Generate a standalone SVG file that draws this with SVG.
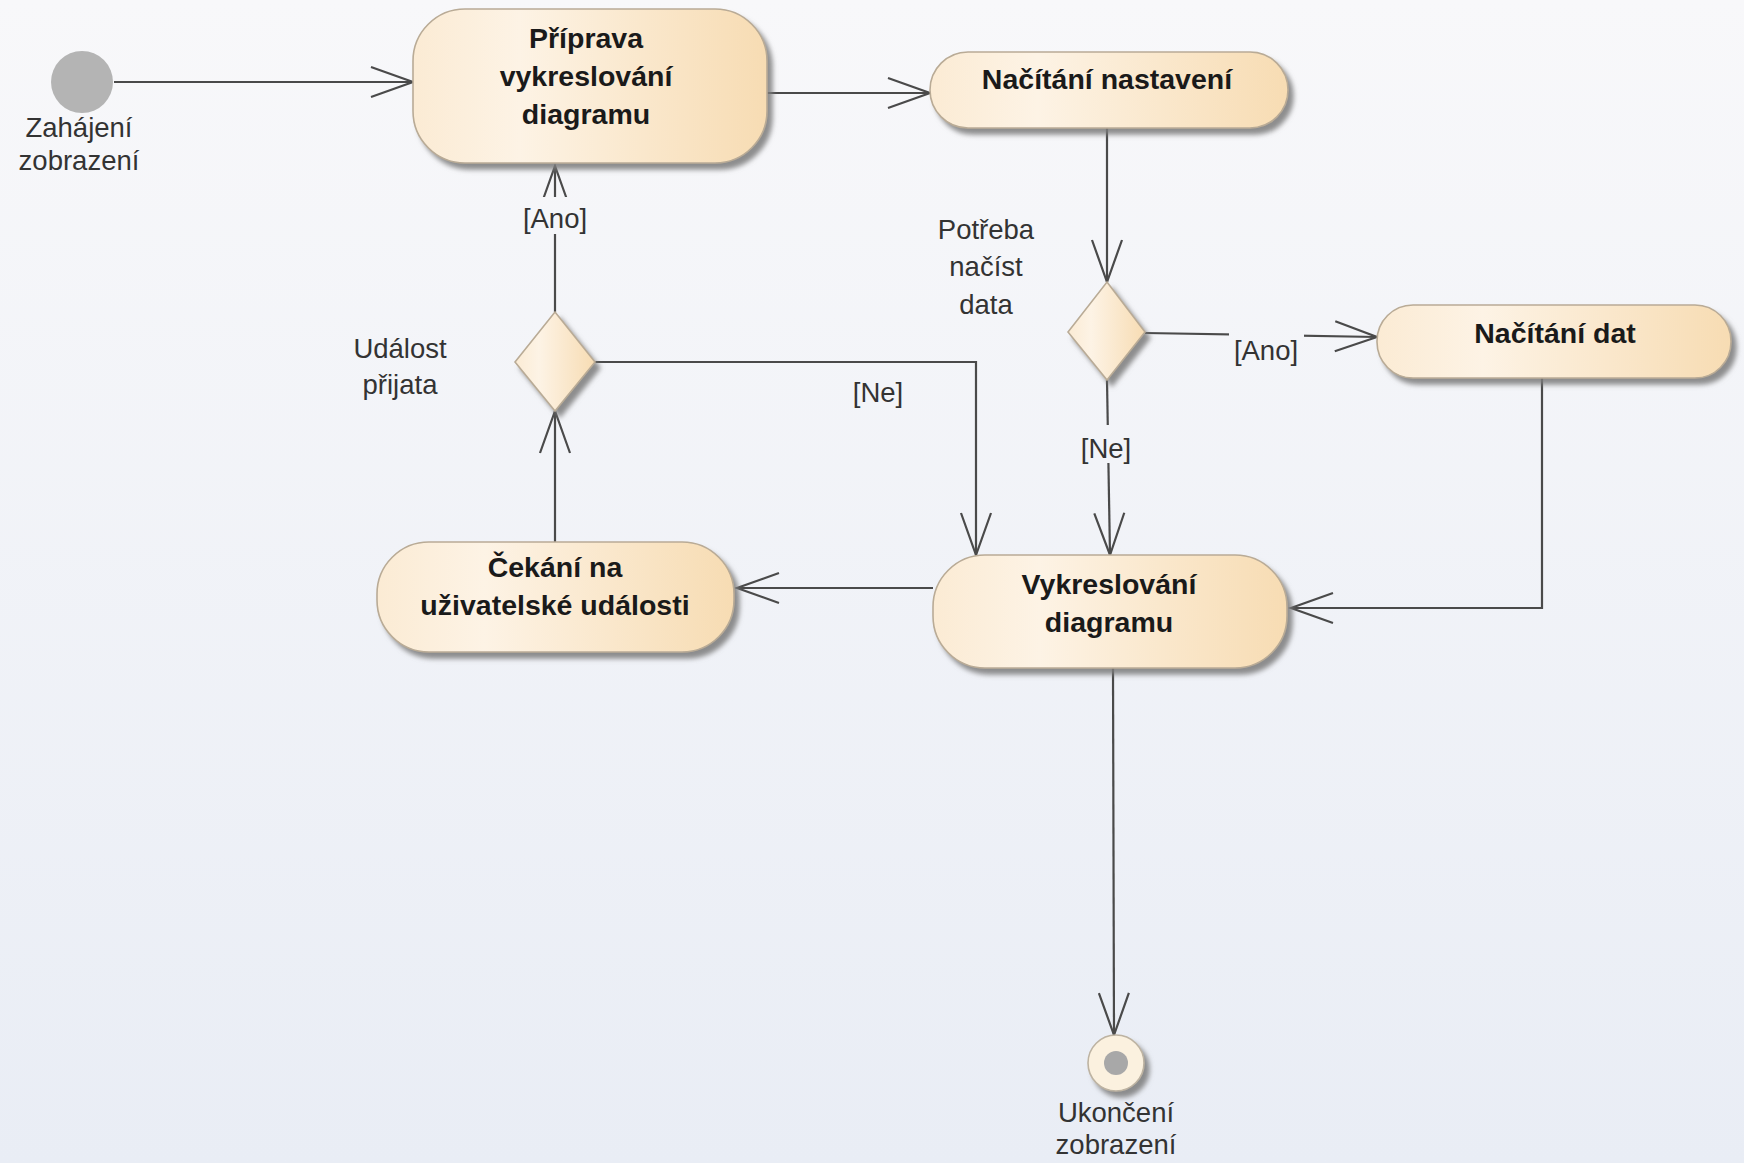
<svg xmlns="http://www.w3.org/2000/svg" width="1744" height="1163" viewBox="0 0 1744 1163">
  <defs>
    <linearGradient id="bg" gradientUnits="userSpaceOnUse" x1="0" y1="0" x2="0" y2="1163">
      <stop offset="0" stop-color="#f8f8fa"/>
      <stop offset="1" stop-color="#e9edf5"/>
    </linearGradient>
    <linearGradient id="nodeFill" x1="0" y1="0" x2="1" y2="0">
      <stop offset="0" stop-color="#fbebd4"/>
      <stop offset="0.3" stop-color="#fdf3e5"/>
      <stop offset="1" stop-color="#f7dcb3"/>
    </linearGradient>
    <filter id="shadow" x="-10%" y="-10%" width="130%" height="140%">
      <feDropShadow dx="5" dy="6" stdDeviation="2.5" flood-color="#7a7a7a" flood-opacity="0.85"/>
    </filter>
    <marker id="arrow" markerUnits="userSpaceOnUse" markerWidth="50" markerHeight="40" viewBox="-46 -20 50 40" refX="0" refY="0" orient="auto">
      <path d="M -42 -15 L 0 0 L -42 15" fill="none" stroke="#4a4a4a" stroke-width="2.2"/>
    </marker>
  </defs>
  <style>
    .node { fill: url(#nodeFill); stroke: #b9ab96; stroke-width: 1.6; filter: url(#shadow); }
    .conn { fill: none; stroke: #4a4a4a; stroke-width: 2.2; }
    .ntext { font-family: "Liberation Sans", Arial, sans-serif; font-weight: bold; font-size: 28.5px; fill: #1a1a1a; text-anchor: middle; }
    .label { font-family: "Liberation Sans", Arial, sans-serif; font-size: 27.5px; fill: #333333; text-anchor: middle; }
    .lblbg { fill: url(#bg); stroke: none; }
  </style>

  <rect x="0" y="0" width="1744" height="1163" fill="url(#bg)"/>

  <g id="connectors">
    <path class="conn" d="M 114 82 L 413 82" marker-end="url(#arrow)"/>
    <path class="conn" d="M 767 93 L 930 93" marker-end="url(#arrow)"/>
    <path class="conn" d="M 1107 128 L 1107 282" marker-end="url(#arrow)"/>
    <path class="conn" d="M 1145 333 L 1377 337" marker-end="url(#arrow)"/>
    <path class="conn" d="M 1107 380 L 1110 555" marker-end="url(#arrow)"/>
    <path class="conn" d="M 1542 378 L 1542 608 L 1291 608" marker-end="url(#arrow)"/>
    <path class="conn" d="M 933 588 L 737 588" marker-end="url(#arrow)"/>
    <path class="conn" d="M 555 542 L 555 411" marker-end="url(#arrow)"/>
    <path class="conn" d="M 555 312 L 555 166" marker-end="url(#arrow)"/>
    <path class="conn" d="M 595 362 L 976 362 L 976 555" marker-end="url(#arrow)"/>
    <path class="conn" d="M 1113 668 L 1114 1035" marker-end="url(#arrow)"/>

    <rect class="lblbg" x="521" y="197" width="68" height="37"/>
    <text class="label" x="555" y="228">[Ano]</text>
    <text class="label" x="878" y="402">[Ne]</text>
    <rect class="lblbg" x="1229" y="326" width="75" height="40"/>
    <text class="label" x="1266" y="360">[Ano]</text>
    <rect class="lblbg" x="1084" y="425" width="44" height="38"/>
    <text class="label" x="1106" y="458">[Ne]</text>
  </g>

  <g id="start">
    <circle cx="82" cy="82" r="31" fill="#b4b4b4"/>
    <text class="label" x="79" y="137">Zahájení</text>
    <text class="label" x="79" y="170">zobrazení</text>
  </g>

  <g id="priprava">
    <rect class="node" x="413" y="9" width="354" height="154" rx="52" ry="52"/>
    <text class="ntext" x="586" y="48">Příprava</text>
    <text class="ntext" x="586" y="86">vykreslování</text>
    <text class="ntext" x="586" y="124">diagramu</text>
  </g>

  <g id="nacitani-nastaveni">
    <rect class="node" x="930" y="52" width="358" height="76" rx="38" ry="38"/>
    <text class="ntext" x="1107" y="89">Načítání nastavení</text>
  </g>

  <g id="potreba-decision">
    <polygon class="node" points="1107,282 1145,332 1107,380 1068,332"/>
    <text class="label" x="986" y="239">Potřeba</text>
    <text class="label" x="986" y="276">načíst</text>
    <text class="label" x="986" y="314">data</text>
  </g>

  <g id="nacitani-dat">
    <rect class="node" x="1377" y="305" width="354" height="73" rx="36" ry="36"/>
    <text class="ntext" x="1555" y="343">Načítání dat</text>
  </g>

  <g id="udalost-decision">
    <polygon class="node" points="555,312 595,362 555,411 515,362"/>
    <text class="label" x="400" y="358">Událost</text>
    <text class="label" x="400" y="394">přijata</text>
  </g>

  <g id="cekani">
    <rect class="node" x="377" y="542" width="357" height="110" rx="52" ry="52"/>
    <text class="ntext" x="555" y="577">Čekání na</text>
    <text class="ntext" x="555" y="615">uživatelské události</text>
  </g>

  <g id="vykreslovani">
    <rect class="node" x="933" y="555" width="354" height="113" rx="52" ry="52"/>
    <text class="ntext" x="1109" y="594">Vykreslování</text>
    <text class="ntext" x="1109" y="632">diagramu</text>
  </g>

  <g id="end">
    <circle cx="1116" cy="1063" r="28" fill="#fbf1df" stroke="#bdb3a2" stroke-width="1.6" filter="url(#shadow)"/>
    <circle cx="1116" cy="1063" r="12" fill="#a8a8a8"/>
    <text class="label" x="1116" y="1122">Ukončení</text>
    <text class="label" x="1116" y="1154">zobrazení</text>
  </g>
</svg>
